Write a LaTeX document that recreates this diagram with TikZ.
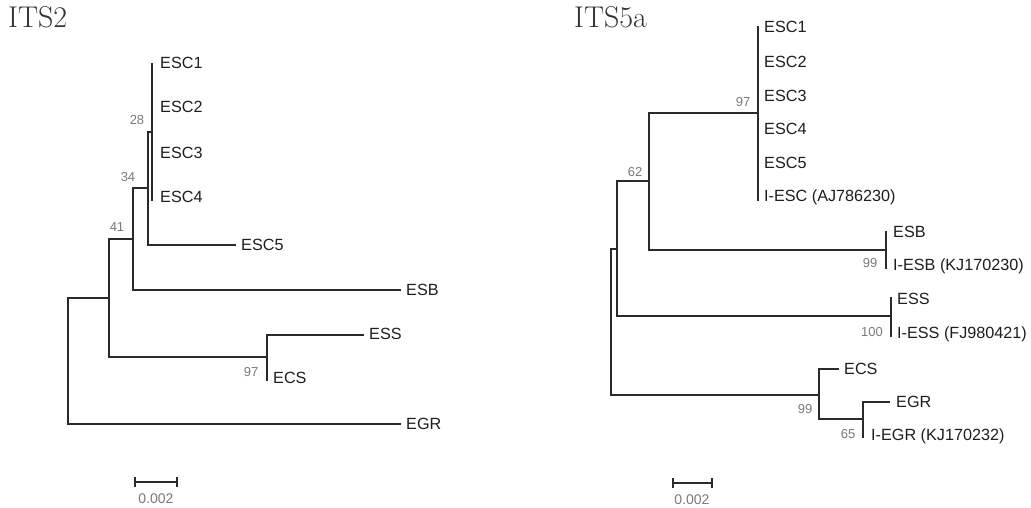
\documentclass[tikz,border=0pt]{standalone}
\usepackage{fontspec}
\newfontfamily\labfont{Liberation Sans}
\definecolor{treeline}{HTML}{2A2A2A}
\definecolor{labtext}{HTML}{1E1E1E}
\definecolor{bootgray}{HTML}{7A7A7A}
\definecolor{titlegray}{HTML}{333333}
\begin{document}
\begin{tikzpicture}[x=1pt,y=-1pt,
  branch/.style={draw=treeline,line width=1.5pt,line cap=rect},
  leaf/.style={anchor=west,inner sep=0pt,text=labtext,font=\labfont\fontsize{16.2}{19}\selectfont},
  boot/.style={inner sep=0pt,text=bootgray,font=\labfont\fontsize{13}{15}\selectfont},
  treetitle/.style={anchor=base west,inner sep=0pt,text=titlegray,font=\fontsize{30}{34}\selectfont},
  scalebar/.style={draw=treeline,line width=1.3pt},
  scalelab/.style={inner sep=0pt,text=bootgray,font=\labfont\fontsize{14}{16}\selectfont}]
\useasboundingbox[fill=white] (0,0) rectangle (1031,508);

% ---------------- ITS2 ----------------
\node[treetitle] (t1) at (8,28) {ITS2};

\coordinate (a1) at (152,64);
\coordinate (a4) at (152,200);
\coordinate (n28) at (152,132);
\coordinate (n34) at (148,188);
\coordinate (a5) at (235,245);
\coordinate (n41) at (133,239);
\coordinate (ab) at (400,290);
\coordinate (nb) at (109,298);
\coordinate (n97) at (267,357);
\coordinate (as) at (363,335);
\coordinate (ac) at (267,380);
\coordinate (rootL) at (68,361);
\coordinate (ag) at (400,424);

\draw[branch] (a1) -- (a4);
\draw[branch] (n28) -| (n34) |- (a5);
\draw[branch] (n34) -| (n41) |- (ab);
\draw[branch] (n41) -| (nb) |- (n97);
\draw[branch] (as) -| (n97) |- (ac);
\draw[branch] (nb) -| (rootL) |- (ag);

\node[leaf] (la1) at (160,63) {ESC1};
\node[leaf] (la2) at (160,107) {ESC2};
\node[leaf] (la3) at (160,153) {ESC3};
\node[leaf] (la4) at (160,197) {ESC4};
\node[leaf] (la5) at (241,245) {ESC5};
\node[leaf] (lab) at (406,290) {ESB};
\node[leaf] (las) at (369,334) {ESS};
\node[leaf] (lac) at (273,378) {ECS};
\node[leaf] (lag) at (406,424) {EGR};

\node[boot] (b28) at (137,120) {28};
\node[boot] (b34) at (128,177) {34};
\node[boot] (b41) at (117,227) {41};
\node[boot] (b97) at (251,372) {97};

\coordinate (s1a) at (135,482);
\coordinate (s1b) at (177,482);
\draw[scalebar] (s1a) -- (s1b);
\draw[scalebar] ([yshift=-5pt]s1a) -- ([yshift=5pt]s1a);
\draw[scalebar] ([yshift=-5pt]s1b) -- ([yshift=5pt]s1b);
\node[scalelab] (sl1) at (156,499) {0.002};

% ---------------- ITS5a ----------------
\node[treetitle] (t2) at (574,28) {ITS5a};

\coordinate (c1) at (758,27);
\coordinate (c6) at (758,200);
\coordinate (m97) at (758,113);
\coordinate (m62) at (649,181);
\coordinate (m99a) at (886,250);
\coordinate (cb1) at (886,232);
\coordinate (cb2) at (886,268);
\coordinate (ma) at (617,249);
\coordinate (m100) at (891,316);
\coordinate (cs1) at (891,298);
\coordinate (cs2) at (891,336);
\coordinate (rootR) at (611,322);
\coordinate (m99b) at (819,395);
\coordinate (cc) at (838,369);
\coordinate (m65) at (863,419);
\coordinate (cg1) at (889,402);
\coordinate (cg2) at (863,437);

\draw[branch] (c1) -- (c6);
\draw[branch] (cb1) -- (cb2);
\draw[branch] (cs1) -- (cs2);
\draw[branch] (m97) -| (m62) |- (m99a);
\draw[branch] (m62) -| (ma) |- (m100);
\draw[branch] (ma) -| (rootR) |- (m99b);
\draw[branch] (cc) -| (m99b) |- (m65);
\draw[branch] (cg1) -| (m65) -- (cg2);

\node[leaf] (lc1) at (764,27) {ESC1};
\node[leaf] (lc2) at (764,62) {ESC2};
\node[leaf] (lc3) at (764,96) {ESC3};
\node[leaf] (lc4) at (764,129) {ESC4};
\node[leaf] (lc5) at (764,163) {ESC5};
\node[leaf] (lc6) at (764,197) {I-ESC (AJ786230)};
\node[leaf] (lcb1) at (893,232) {ESB};
\node[leaf] (lcb2) at (893,266) {I-ESB (KJ170230)};
\node[leaf] (lcs1) at (897,299) {ESS};
\node[leaf] (lcs2) at (897,334) {I-ESS (FJ980421)};
\node[leaf] (lcc) at (844,369) {ECS};
\node[leaf] (lcg1) at (896,402) {EGR};
\node[leaf] (lcg2) at (871,436) {I-EGR (KJ170232)};

\node[boot] (d97) at (743,102) {97};
\node[boot] (d62) at (635,172) {62};
\node[boot] (d99a) at (870,263) {99};
\node[boot] (d100) at (872,332) {100};
\node[boot] (d99b) at (805,409) {99};
\node[boot] (d65) at (848,434) {65};

\coordinate (s2a) at (673,483);
\coordinate (s2b) at (712,483);
\draw[scalebar] (s2a) -- (s2b);
\draw[scalebar] ([yshift=-5pt]s2a) -- ([yshift=5pt]s2a);
\draw[scalebar] ([yshift=-5pt]s2b) -- ([yshift=5pt]s2b);
\node[scalelab] (sl2) at (692,500) {0.002};
\end{tikzpicture}
\end{document}
